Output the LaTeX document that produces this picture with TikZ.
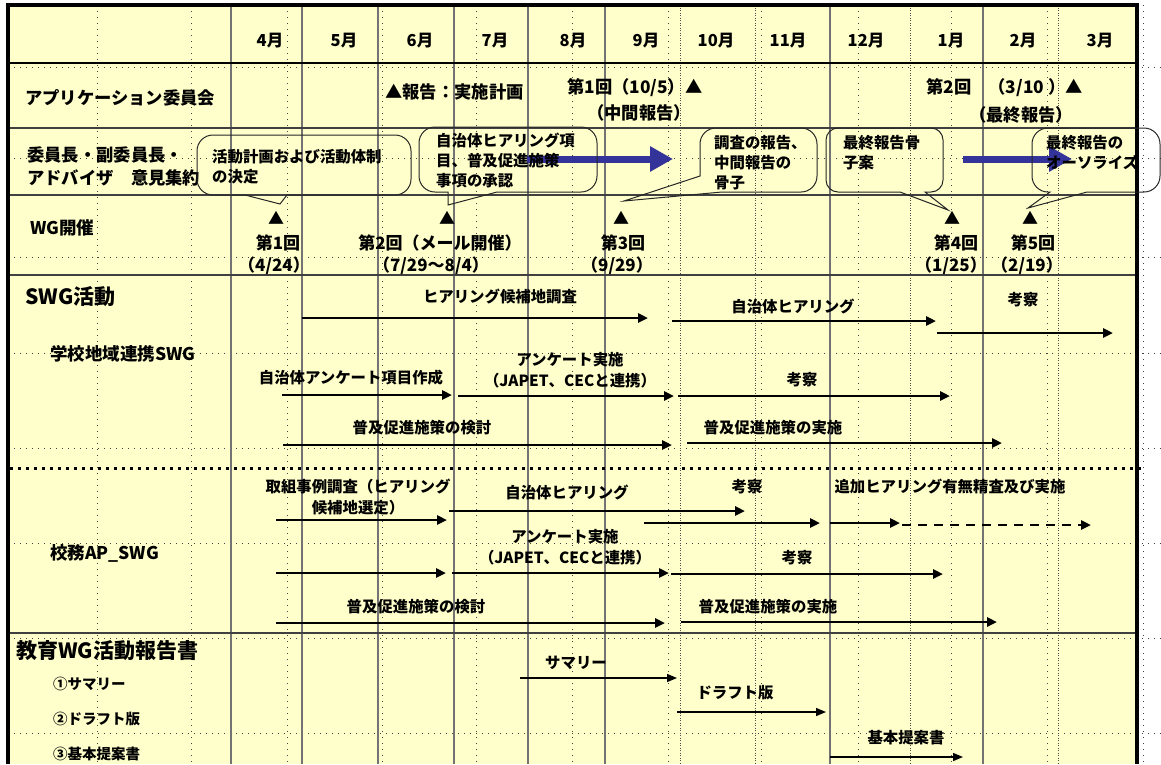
\documentclass[tikz,border=0pt]{standalone}
\usepackage{fontspec}
\setmainfont{Noto Sans CJK JP}
\usetikzlibrary{arrows.meta}
\definecolor{bgy}{HTML}{FFFFCC}
\definecolor{arrblue}{RGB}{51,51,153}
\tikzset{
 grid dot/.style={black!75, line width=0.9pt, dash pattern=on 1pt off 5pt},
 dense dot/.style={black!70, line width=0.9pt, dash pattern=on 1pt off 1.5pt},
 vline/.style={black!55, line width=1.1pt},
 hline/.style={black!75, line width=1.1pt},
 outerframe/.style={black, line width=3.5pt, line join=miter},
 hd/.style={font=\bfseries\fontsize{16.5}{18}\selectfont, inner sep=0pt},
 rowlab/.style={font=\bfseries\fontsize{17.3}{19}\selectfont, anchor=west, inner sep=0pt},
 seclab/.style={font=\bfseries\fontsize{21}{23}\selectfont, anchor=west, inner sep=0pt},
 sublab/.style={font=\bfseries\fontsize{17.5}{19}\selectfont, anchor=west, inner sep=0pt},
 replab/.style={font=\bfseries\fontsize{14.5}{16}\selectfont, anchor=west, inner sep=0pt},
 comtxt/.style={font=\bfseries\fontsize{17.3}{19}\selectfont, anchor=west, inner sep=0pt},
 wgtxt/.style={font=\bfseries\fontsize{17}{19}\selectfont, inner sep=0pt},
 tri/.style={font=\fontsize{16}{17}\selectfont, inner sep=0pt},
 acttxt/.style={font=\bfseries\fontsize{15.4}{21}\selectfont, inner sep=0pt, align=center},
 bubtxt/.style={font=\bfseries\fontsize{15.4}{20}\selectfont, inner sep=0pt, align=left, anchor=west},
 act/.style={line width=2.5pt, -{Triangle[length=10pt,width=9pt]}},
 thinact/.style={line width=1.4pt, -{Triangle[length=10pt,width=8pt]}},
 dashact/.style={act, dash pattern=on 9pt off 7pt},
 bluearr/.style={arrblue, line width=7pt, -{Triangle[length=23pt,width=24pt]}},
 bubble/.style={black!85, line width=1pt},
}
\begin{document}
\begin{tikzpicture}[x=1pt,y=-1pt]
\useasboundingbox (0,0) rectangle (1161,764);
\fill[bgy] (8,5) rectangle (1137,764);
% dotted cell grid
\foreach \x in {97,191,287,382,476,572,668,761,858,951,1047,1143} \draw[grid dot] (\x,5) -- (\x,764);
\foreach \y in {67,158,257,353,448,543,638,733} \draw[grid dot] (8,\y) -- (1161,\y);
% month lines
\foreach \x in {231,302,378,454,528,605,830,983} \draw[vline] (\x,5) -- (\x,764);
\foreach \x in {680,755,910,1058} \draw[dense dot] (\x,5) -- (\x,764);
% row lines
\draw[black, line width=2pt] (8,63) -- (1137,63);
\foreach \y in {128,195,275,633} \draw[hline] (8,\y) -- (1137,\y);
\draw[line width=3pt, dash pattern=on 3pt off 5pt] (10,468) -- (1143,468);
% frame
\draw[outerframe] (8,764) -- (8,5) -- (1137,5) -- (1137,764);

% months
\node[hd] (mA) at (270,41) {4月};
\node[hd] (mB) at (344,41) {5月};
\node[hd] (mC) at (420,41) {6月};
\node[hd] (mD) at (495,41) {7月};
\node[hd] (mE) at (573,41) {8月};
\node[hd] (mF) at (646,41) {9月};
\node[hd] (mG) at (716,41) {10月};
\node[hd] (mH) at (788,41) {11月};
\node[hd] (mI) at (866,41) {12月};
\node[hd] (mJ) at (951,41) {1月};
\node[hd] (mK) at (1023,41) {2月};
\node[hd] (mL) at (1100,41) {3月};

% row labels
\node[rowlab] (rApp) at (25,98) {アプリケーション委員会};
\node[rowlab] (rChairA) at (27,155) {委員長・副委員長・};
\node[rowlab] (rChairB) at (27,178) {アドバイザ　意見集約};
\node[sublab] (rWG) at (30,228) {WG開催};
\node[seclab] (rSWG) at (25,297) {SWG活動};
\node[sublab] (rSchool) at (50,354) {学校地域連携SWG};
\node[sublab] (rAP) at (50,553) {校務AP\_SWG};
\node[seclab] (rRep) at (16,651) {教育WG活動報告書};
\node[replab] (rRepA) at (53,684) {①サマリー};
\node[replab] (rRepB) at (53,719) {②ドラフト版};
\node[replab] (rRepC) at (53,754) {③基本提案書};

% committee
\node[comtxt] (cA) at (385,92) {▲報告：実施計画};
\node[comtxt] (cB) at (567,88) {第1回（10/5）▲};
\node[comtxt] (cC) at (587,113) {（中間報告）};
\node[comtxt] (cD) at (926,88) {第2回　（3/10 ）▲};
\node[comtxt] (cE) at (969,115) {（最終報告）};

% blue arrows
\coordinate (bAs) at (527,159); \coordinate (bAe) at (673,159);
\coordinate (bBs) at (963,159); \coordinate (bBe) at (1072,159);
\draw[bluearr] (bAs) -- (bAe);
\draw[bluearr] (bBs) -- (bBe);

% bubbles
\draw[bubble] (245,195) -- (280,204) -- (287,195) [rounded corners=16pt] -- (411,195) -- (411,135) -- (197,135) -- (197,195) [sharp corners] -- cycle;
\draw[bubble] (448,192) -- (448,205) -- (497,192) [rounded corners=16pt] -- (597,192) -- (597,127) -- (419,127) -- (419,192) [sharp corners] -- cycle;
\draw[bubble] (700,176) -- (624,201) -- (722,192) [rounded corners=16pt] -- (817,192) -- (817,128) -- (700,128) [sharp corners] -- cycle;
\draw[bubble] (900,192) -- (948,210) -- (925,192) [rounded corners=12pt] -- (943,192) -- (943,128) -- (826,128) -- (826,192) [sharp corners] -- cycle;
\draw[bubble] (1050,192) -- (1028,208) -- (1087,192) [rounded corners=16pt] -- (1160,192) -- (1160,128) -- (1032,128) -- (1032,192) [sharp corners] -- cycle;
\node[bubtxt] (btA) at (212,167) {活動計画および活動体制\\の決定};
\node[bubtxt] (btB) at (436,160) {自治体ヒアリング項\\目、普及促進施策\\事項の承認};
\node[bubtxt] (btC) at (714,163) {調査の報告、\\中間報告の\\骨子};
\node[bubtxt] (btD) at (843,153) {最終報告骨\\子案};
\node[bubtxt] (btE) at (1046,153) {最終報告の\\オーソライズ};

% WG meetings
\node[tri] (tA) at (276,218) {▲};
\node[tri] (tB) at (447,218) {▲};
\node[tri] (tC) at (621,218) {▲};
\node[tri] (tD) at (952,218) {▲};
\node[tri] (tE) at (1030,218) {▲};
\node[wgtxt] (wAa) at (278,243) {第1回};
\node[wgtxt] (wAb) at (274,266) {（4/24）};
\node[wgtxt] (wBa) at (440,243) {第2回（メール開催）};
\node[wgtxt] (wBb) at (431,266) {（7/29～8/4）};
\node[wgtxt] (wCa) at (623,243) {第3回};
\node[wgtxt] (wCb) at (617,266) {（9/29）};
\node[wgtxt] (wDa) at (956,243) {第4回};
\node[wgtxt] (wDb) at (951,266) {（1/25）};
\node[wgtxt] (wEa) at (1033,243) {第5回};
\node[wgtxt] (wEb) at (1027,266) {（2/19）};

% SWG school activities
\node[acttxt] (sA) at (500,297) {ヒアリング候補地調査};
\node[acttxt] (sB) at (793,307) {自治体ヒアリング};
\node[acttxt] (sC) at (1023,300) {考察};
\node[acttxt] (sD) at (351,378) {自治体アンケート項目作成};
\node[acttxt] (sE) at (570,370) {アンケート実施\\（JAPET、CECと連携）};
\node[acttxt] (sF) at (802,380) {考察};
\node[acttxt] (sG) at (422,428) {普及促進施策の検討};
\node[acttxt] (sH) at (773,428) {普及促進施策の実施};
\coordinate (aAs) at (302,318); \coordinate (aAe) at (648,318);
\coordinate (aBs) at (672,321); \coordinate (aBe) at (936,321);
\coordinate (aCs) at (937,333); \coordinate (aCe) at (1113,333);
\coordinate (aDs) at (282,395); \coordinate (aDe) at (452,395);
\coordinate (aEs) at (458,396); \coordinate (aEe) at (674,396);
\coordinate (aFs) at (678,396); \coordinate (aFe) at (950,396);
\coordinate (aGs) at (283,445); \coordinate (aGe) at (672,445);
\coordinate (aHs) at (687,443); \coordinate (aHe) at (1002,443);
\draw[act] (aAs) -- (aAe);
\draw[act] (aBs) -- (aBe);
\draw[act] (aCs) -- (aCe);
\draw[act] (aDs) -- (aDe);
\draw[act] (aEs) -- (aEe);
\draw[act] (aFs) -- (aFe);
\draw[act] (aGs) -- (aGe);
\draw[act] (aHs) -- (aHe);

% AP SWG activities
\node[acttxt] (pA) at (358,497) {取組事例調査（ヒアリング\\候補地選定）};
\node[acttxt] (pB) at (567,492) {自治体ヒアリング};
\node[acttxt] (pC) at (747,487) {考察};
\node[acttxt] (pD) at (950,486) {追加ヒアリング有無精査及び実施};
\node[acttxt] (pE) at (565,547) {アンケート実施\\（JAPET、CECと連携）};
\node[acttxt] (pF) at (797,558) {考察};
\node[acttxt] (pG) at (416,607) {普及促進施策の検討};
\node[acttxt] (pH) at (768,607) {普及促進施策の実施};
\coordinate (qAs) at (276,520); \coordinate (qAe) at (447,520);
\coordinate (qBs) at (449,511); \coordinate (qBe) at (745,511);
\coordinate (qCs) at (644,523); \coordinate (qCe) at (820,523);
\coordinate (qDs) at (830,523); \coordinate (qDe) at (900,523);
\coordinate (qEs) at (902,525); \coordinate (qEe) at (1091,525);
\coordinate (qFs) at (276,573); \coordinate (qFe) at (446,573);
\coordinate (qGs) at (452,573); \coordinate (qGe) at (669,573);
\coordinate (qHs) at (671,574); \coordinate (qHe) at (943,574);
\coordinate (qIs) at (276,623); \coordinate (qIe) at (665,623);
\coordinate (qJs) at (681,622); \coordinate (qJe) at (997,622);
\draw[act] (qAs) -- (qAe);
\draw[act] (qBs) -- (qBe);
\draw[act] (qCs) -- (qCe);
\draw[act] (qDs) -- (qDe);
\draw[dashact] (qEs) -- (qEe);
\draw[act] (qFs) -- (qFe);
\draw[act] (qGs) -- (qGe);
\draw[act] (qHs) -- (qHe);
\draw[act] (qIs) -- (qIe);
\draw[act] (qJs) -- (qJe);

% report
\node[acttxt] (eA) at (576,663) {サマリー};
\node[acttxt] (eB) at (735,693) {ドラフト版};
\node[acttxt] (eC) at (906,738) {基本提案書};
\coordinate (eAs) at (520,678); \coordinate (eAe) at (677,678);
\coordinate (eBs) at (677,712); \coordinate (eBe) at (826,712);
\coordinate (eCs) at (830,757); \coordinate (eCe) at (963,757);
\draw[thinact] (eAs) -- (eAe);
\draw[thinact] (eBs) -- (eBe);
\draw[thinact] (eCs) -- (eCe);
\end{tikzpicture}
\end{document}
